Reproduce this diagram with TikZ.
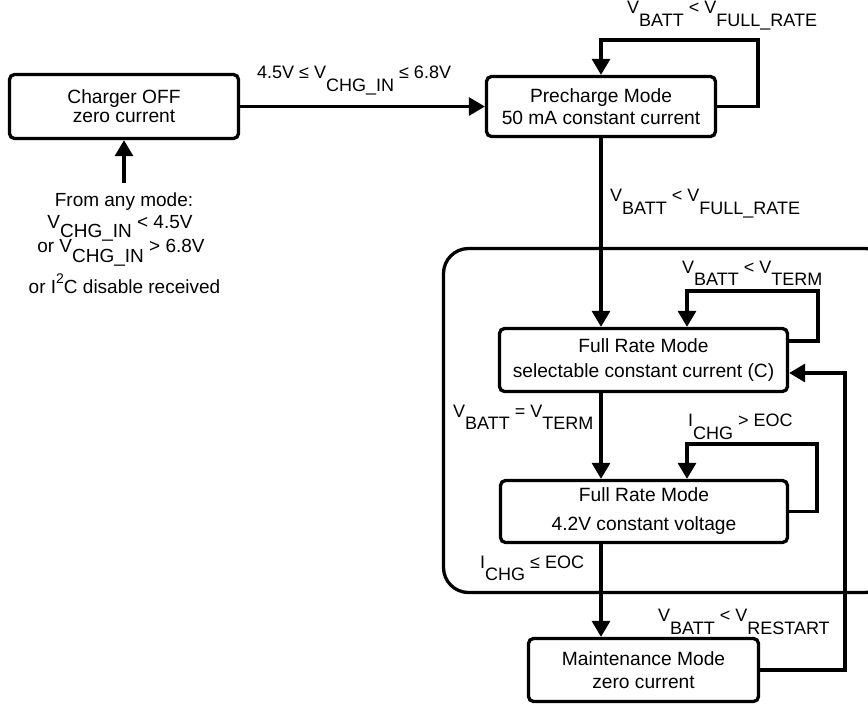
\documentclass[tikz,border=0pt]{standalone}
\usepackage{fontspec}
\setmainfont{Liberation Sans}
\usetikzlibrary{arrows.meta,calc}
\newcommand{\dn}[1]{\raisebox{-0.72em}{#1}}
\newcommand{\dnb}[1]{\raisebox{-0.5em}{#1}}
\tikzset{
  lw/.style={line width=3.3pt},
  box/.style={draw, lw, rounded corners=5pt, inner sep=0pt, align=center,
    font=\fontsize{19.2}{21}\selectfont},
  arr/.style={lw, -{Triangle[length=16pt,width=18pt]}},
  lbl/.style={anchor=base west, inner sep=0pt, font=\fontsize{18}{21}\selectfont},
  ctr/.style={anchor=base, inner sep=0pt, font=\fontsize{19}{21}\selectfont},
}
\begin{document}
\begin{tikzpicture}[x=1pt,y=-1pt]
\useasboundingbox (0,0) rectangle (868,705);
% container
\draw[lw, rounded corners=25pt] (443.5,248.5) rectangle (890,592.5);
% boxes
\node[box, minimum width=229pt, minimum height=64pt] (off) at (124,106.5) {Charger OFF\\[-2pt]zero current};
\node[box, minimum width=229pt, minimum height=60pt] (pre) at (601,106.5) {Precharge Mode\\[0.6pt]50 mA constant current};
\node[box, minimum width=288pt, minimum height=63pt] (fr1) at (643.5,360) {Full Rate Mode\\[3.6pt]selectable constant current (C)};
\node[box, minimum width=287pt, minimum height=62pt] (fr2) at (644,511.5) {Full Rate Mode\\[8pt]4.2V constant voltage};
\node[box, minimum width=230pt, minimum height=63pt] (mnt) at (643.5,670) {Maintenance Mode\\[1.4pt]zero current};
% coordinates
\coordinate (p1) at (758,40);
\coordinate (f1a) at (818,291);
\coordinate (f2a) at (817,444);
\coordinate (r1) at (845,373);
\coordinate (u1) at (124,183);
% connectors
\draw[arr] (off.east) -- (pre.west);
\draw[arr] (pre.east) -| (p1) -| (pre.north);
\draw[arr] (pre.south) -- (pre.south |- fr1.north);
\draw[arr] ([yshift=19pt]fr1.east) -| (f1a) -| ([xshift=43.5pt]fr1.north);
\draw[arr] (pre.south |- fr1.south) -- (pre.south |- fr2.north);
\draw[arr] (fr2.east) -| (f2a) -| ([xshift=43pt]fr2.north);
\draw[arr] (pre.south |- fr2.south) -- (pre.south |- mnt.north);
\draw[arr] (mnt.east) -| (r1) -- ([yshift=-13pt]fr1.east);
\draw[arr] (u1) -- (off.south);
% labels
\node[lbl] (l1) at (257,78.3) {4.5V ≤ V\dn{CHG\_IN} ≤ 6.8V};
\node[lbl] (l2) at (627,13.3) {V\dn{BATT} < V\dn{FULL\_RATE}};
\node[lbl] (l3) at (610,201.7) {V\dn{BATT} < V\dn{FULL\_RATE}};
\node[lbl] (l4) at (682,273) {V\dn{BATT} < V\dn{TERM}};
\node[lbl] (l5) at (453,417) {V\dn{BATT} = V\dn{TERM}};
\node[lbl] (l6) at (688,426.5) {I\dn{CHG} > EOC};
\node[lbl] (l7) at (480,568) {I\dn{CHG} ≤ EOC};
\node[lbl] (l8) at (658,621.7) {V\dn{BATT} < V\dn{RESTART}};
% left text
\node[ctr] (from1) at (124,206.7) {From any mode:};
\node[ctr] (from2) at (120,228.3) {V\dnb{CHG\_IN} < 4.5V};
\node[ctr] (from3) at (121,252.7) {or V\dnb{CHG\_IN} > 6.8V};
\node[ctr] (from4) at (124.5,293) {or I\raisebox{0.5em}{\fontsize{14}{14}\selectfont 2}C disable received};
\end{tikzpicture}
\end{document}
